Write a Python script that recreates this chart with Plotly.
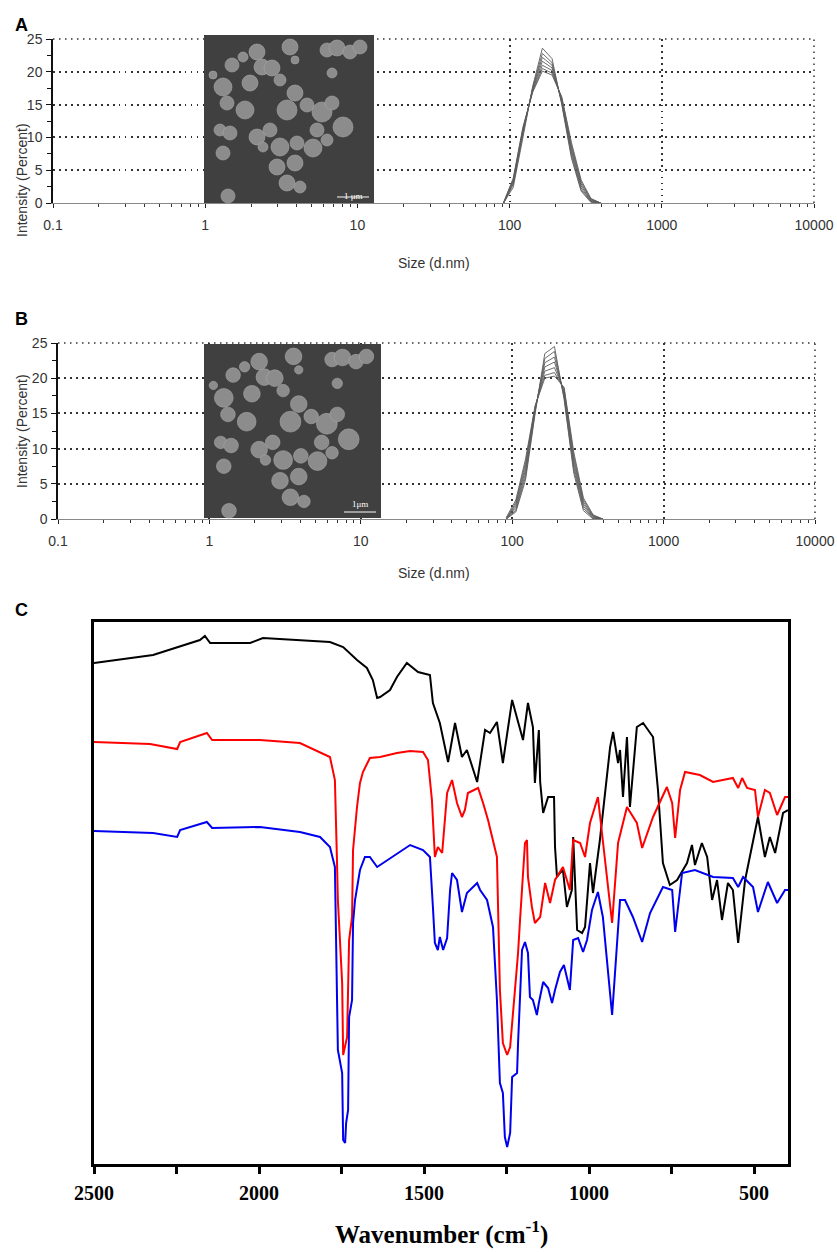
import plotly.graph_objects as go

W, H = 837, 1252

# ---------------- DLS data (panels A and B) ----------------
sizes_nm = [91.28, 105.7, 122.4, 141.8, 164.2, 190.1, 220.2, 255.0, 295.3, 342.0, 396.1]

runs_A = [
    [0, 2.4, 10.0, 17.8, 23.6, 22.0, 15.0, 6.8, 1.8, 0.1, 0],
    [0, 2.8, 10.5, 17.6, 22.8, 21.4, 15.2, 7.2, 2.0, 0.2, 0],
    [0, 3.0, 10.8, 17.5, 22.2, 21.0, 15.4, 7.6, 2.3, 0.3, 0],
    [0, 3.2, 11.0, 17.3, 21.6, 20.6, 15.6, 8.0, 2.6, 0.4, 0],
    [0, 3.4, 11.2, 17.2, 21.0, 20.2, 15.8, 8.4, 2.9, 0.5, 0],
    [0, 3.6, 11.4, 17.0, 20.5, 19.8, 16.0, 8.8, 3.2, 0.6, 0],
    [0.1, 3.8, 11.6, 16.9, 20.1, 19.5, 16.2, 9.2, 3.5, 0.7, 0],
]

runs_B = [
    [0, 1.0, 5.5, 15.0, 23.5, 24.5, 17.0, 6.5, 1.2, 0, 0],
    [0, 1.2, 6.0, 15.3, 22.8, 23.8, 17.3, 7.0, 1.5, 0.1, 0],
    [0, 1.5, 6.5, 15.5, 22.2, 23.0, 17.6, 7.5, 1.8, 0.2, 0],
    [0, 1.8, 7.0, 15.7, 21.6, 22.3, 17.9, 8.0, 2.1, 0.3, 0],
    [0, 2.1, 7.5, 15.9, 21.0, 21.5, 18.2, 8.5, 2.4, 0.4, 0],
    [0, 2.4, 8.0, 16.0, 20.4, 20.8, 18.5, 9.0, 2.7, 0.5, 0],
    [0.2, 2.7, 8.5, 16.1, 20.0, 20.3, 18.7, 9.5, 3.0, 0.6, 0],
]

size_ticks = [0.1, 1, 10, 100, 1000, 10000]
size_tick_labels = ["0.1", "1", "10", "100", "1000", "10000"]
intensity_ticks = [0, 5, 10, 15, 20, 25]

# ---------------- FTIR data (panel C) ----------------
black_wn = [2500, 2321, 2179, 2164, 2148, 2027, 1988, 1876, 1785, 1745, 1703, 1673, 1655, 1642, 1633,
            1603, 1582, 1552, 1518, 1482, 1473, 1452, 1427, 1406, 1385, 1370, 1339, 1315, 1300, 1279,
            1261, 1233, 1218, 1200, 1185, 1170, 1164, 1152, 1148, 1139, 1124, 1106, 1103, 1097, 1088,
            1079, 1067, 1052, 1048, 1036, 1021, 1012, 997, 988, 967, 936, 927, 912, 906, 897,
            885, 876, 855, 836, 806, 791, 776, 755, 733, 703, 688, 679, 658, 642, 627,
            612, 597, 579, 564, 548, 527, 488, 467, 452, 436, 412, 397]
black_T = [501, 509, 524, 528, 521, 521, 526, 524, 522, 517, 504, 496, 484, 466, 467,
           474, 487, 501, 492, 489, 461, 441, 402, 441, 407, 414, 382, 434, 431, 442,
           401, 464, 447, 424, 461, 437, 381, 434, 382, 351, 367, 367, 317, 287, 291,
           294, 257, 274, 327, 234, 231, 237, 301, 271, 324, 417, 432, 401, 414, 367,
           427, 357, 437, 441, 427, 374, 301, 279, 284, 301, 319, 299, 321, 307, 264,
           284, 244, 281, 274, 221, 284, 347, 307, 327, 311, 351, 354]

red_wn = [2500, 2330, 2248, 2239, 2158, 2142, 1997, 1876, 1785, 1770, 1764, 1761, 1748, 1745, 1733,
          1727, 1718, 1715, 1703, 1694, 1685, 1664, 1633, 1582, 1542, 1503, 1488, 1476, 1467, 1458,
          1445, 1430, 1415, 1400, 1385, 1376, 1367, 1336, 1321, 1306, 1279, 1270, 1261, 1248, 1239,
          1224, 1215, 1209, 1194, 1188, 1185, 1173, 1164, 1148, 1133, 1118, 1103, 1079, 1067, 1058,
          1048, 1027, 1012, 997, 973, 952, 930, 912, 885, 855, 839, 806, 764, 748, 739,
          724, 709, 664, 624, 564, 548, 536, 521, 497, 488, 467, 452, 430, 406, 397]
red_T = [422, 420, 415, 422, 431, 424, 424, 421, 407, 384, 307, 264, 181, 109, 127,
         224, 247, 314, 357, 381, 392, 406, 407, 411, 413, 412, 404, 364, 307, 317,
         311, 371, 384, 361, 347, 354, 371, 376, 361, 344, 307, 174, 121, 109, 117,
         176, 211, 244, 321, 324, 287, 257, 241, 247, 281, 261, 284, 297, 284, 274,
         324, 321, 307, 341, 367, 307, 241, 321, 357, 341, 316, 347, 377, 361, 326,
         374, 392, 389, 382, 386, 376, 386, 376, 374, 347, 374, 371, 349, 367, 367]

blue_wn = [2500, 2321, 2248, 2239, 2158, 2142, 1997, 1876, 1815, 1785, 1770, 1761, 1748, 1745, 1739,
           1736, 1730, 1727, 1718, 1715, 1709, 1694, 1679, 1664, 1642, 1624, 1582, 1542, 1503, 1482,
           1473, 1467, 1458, 1452, 1442, 1430, 1421, 1415, 1400, 1385, 1370, 1339, 1330, 1309, 1291,
           1279, 1270, 1261, 1255, 1248, 1239, 1233, 1218, 1215, 1203, 1194, 1185, 1179, 1170, 1158,
           1152, 1139, 1124, 1112, 1103, 1088, 1076, 1067, 1058, 1048, 1033, 1018, 1006, 991, 973,
           958, 930, 906, 891, 867, 839, 815, 776, 748, 739, 718, 679, 624, 564, 548,
           533, 503, 488, 458, 430, 406, 397]
blue_T = [333, 331, 327, 334, 342, 336, 337, 332, 327, 317, 297, 114, 91, 24, 21,
          41, 54, 147, 164, 241, 264, 294, 307, 307, 297, 301, 311, 319, 314, 307,
          257, 221, 214, 227, 214, 226, 274, 291, 284, 252, 271, 281, 274, 264, 237,
          164, 81, 71, 27, 17, 31, 87, 91, 121, 214, 222, 211, 167, 164, 149,
          161, 182, 176, 161, 174, 192, 199, 187, 174, 224, 226, 212, 224, 254, 272,
          247, 149, 264, 264, 247, 222, 251, 277, 274, 232, 291, 294, 287, 286, 277,
          287, 277, 252, 282, 261, 274, 274]

wn_ticks = [2500, 2000, 1500, 1000, 500]
wn_tick_labels = ["2500", "2000", "1500", "1000", "500"]
wn_minor_ticks = [2250, 1750, 1250, 750]

# ---------------- figure ----------------
fig = go.Figure()

for run in runs_A:
    fig.add_trace(go.Scatter(x=sizes_nm, y=run, xaxis="x", yaxis="y", mode="lines",
                             line=dict(color="#5c5c5c", width=0.9), showlegend=False))
for run in runs_B:
    fig.add_trace(go.Scatter(x=sizes_nm, y=run, xaxis="x2", yaxis="y2", mode="lines",
                             line=dict(color="#5c5c5c", width=0.9), showlegend=False))

for wn, t, col in [(black_wn, black_T, "#000000"), (red_wn, red_T, "#ff0000"), (blue_wn, blue_T, "#0000ee")]:
    fig.add_trace(go.Scatter(x=wn, y=t, xaxis="x3", yaxis="y3", mode="lines",
                             line=dict(color=col, width=2), showlegend=False))


def pxx(x):
    return x / W


def pyy(y):
    return 1 - y / H


sans = "Liberation Sans, Arial, sans-serif"
serif = "Liberation Serif, Times New Roman, serif"
tickfont_dls = dict(family=sans, size=14, color="#333333")
grid_dash = "1.5px,4.5px"
grid_color = "#333333"

minor_log = [k * 10 ** e for e in range(-1, 4) for k in range(2, 10)]


def dls_x(domain, anchor):
    return dict(type="log", range=[-1, 4], domain=domain, anchor=anchor, automargin=False,
                tickvals=size_ticks, ticktext=size_tick_labels,
                showgrid=True, gridcolor=grid_color, griddash=grid_dash, gridwidth=1.5,
                showline=True, linecolor="#888888", linewidth=1.2,
                ticks="outside", ticklen=4, tickcolor="#222222", tickwidth=1,
                minor=dict(tickvals=minor_log, ticks="outside", ticklen=3,
                           tickcolor="#333333", showgrid=False),
                tickfont=tickfont_dls, ticklabelstandoff=5, zeroline=False)


def dls_y(domain, anchor):
    return dict(range=[0, 25], domain=domain, anchor=anchor, automargin=False,
                tickvals=intensity_ticks,
                showgrid=True, gridcolor=grid_color, griddash=grid_dash, gridwidth=1.5,
                showline=True, linecolor="#111111", linewidth=1.5,
                ticks="outside", ticklen=5, tickcolor="#111111", tickwidth=1.2,
                minor=dict(dtick=2.5, tick0=0, ticks="outside", ticklen=4,
                           tickcolor="#111111", showgrid=False),
                tickfont=tickfont_dls, ticklabelstandoff=1, zeroline=False)


layout = dict(
    width=W, height=H, margin=dict(l=0, r=0, t=0, b=0, autoexpand=False),
    paper_bgcolor="white", plot_bgcolor="white", showlegend=False,
    xaxis=dls_x([pxx(53), pxx(814)], "y"),
    yaxis=dls_y([pyy(203), pyy(39)], "x"),
    xaxis2=dls_x([pxx(58), pxx(815)], "y2"),
    yaxis2=dls_y([pyy(519), pyy(343)], "x2"),
    xaxis3=dict(range=[2500, 397], domain=[pxx(94), pxx(788)], anchor="y3", automargin=False,
                tickvals=wn_ticks, ticktext=wn_tick_labels,
                ticks="outside", ticklen=7, tickwidth=3, tickcolor="black",
                minor=dict(tickvals=wn_minor_ticks, ticks="outside", ticklen=7, tickwidth=3,
                           tickcolor="black", showgrid=False),
                showline=True, linewidth=3, linecolor="black", mirror=True,
                showgrid=False, zeroline=False, ticklabelstandoff=2,
                tickfont=dict(family=serif, size=20, color="black", weight="bold")),
    yaxis3=dict(range=[0, 542], domain=[pyy(1164), pyy(622)], anchor="x3", automargin=False,
                showticklabels=False, ticks="", showline=True, linewidth=3,
                linecolor="black", mirror=True, showgrid=False, zeroline=False),
)
fig.update_layout(**layout)

shapes = []
annotations = []

# dotted frame gridlines at the top (25) and right (10000) edges of A and B
for xa, ya in [("x", "y"), ("x2", "y2")]:
    shapes.append(dict(type="line", xref=xa + " domain", yref=ya + " domain", x0=0, x1=1, y0=1, y1=1,
                       line=dict(color=grid_color, width=1.5, dash=grid_dash), layer="below"))
    shapes.append(dict(type="line", xref=xa + " domain", yref=ya + " domain", x0=1, x1=1, y0=0, y1=1,
                       line=dict(color=grid_color, width=1.5, dash=grid_dash), layer="below"))

# ---------------- SEM inset stand-ins ----------------
sem_particles = [(223, 87, 9), (250, 83, 8), (262, 67, 8), (272, 68, 8), (232, 65, 7), (243, 57, 5),
                 (257, 52, 8), (290, 47, 8), (295, 93, 8), (280, 80, 6), (245, 110, 9), (227, 103, 7),
                 (220, 130, 6), (230, 133, 7), (257, 137, 8), (270, 130, 7), (287, 110, 10), (307, 105, 7),
                 (322, 112, 10), (343, 127, 10), (332, 103, 7), (317, 130, 7), (280, 147, 9), (297, 143, 7),
                 (313, 148, 9), (327, 140, 6), (223, 153, 7), (277, 167, 8), (295, 163, 8), (287, 183, 8),
                 (300, 187, 6), (228, 196, 7), (327, 50, 7), (337, 48, 8), (350, 52, 7), (360, 47, 7),
                 (332, 73, 5), (295, 60, 4), (213, 75, 4), (263, 147, 5)]
boxA = (204, 35, 374, 203)
boxB = (204, 344, 381, 518)


def add_sem(box, scale_label):
    x0, y0, x1, y1 = box
    shapes.append(dict(type="rect", xref="paper", yref="paper", x0=pxx(x0), x1=pxx(x1),
                       y0=pyy(y1), y1=pyy(y0), fillcolor="#404040", line=dict(width=0), layer="above"))
    ax0, ay0, ax1, ay1 = boxA
    for cx, cy, r in sem_particles:
        u = (cx - ax0) / (ax1 - ax0)
        v = (cy - ay0) / (ay1 - ay0)
        rr = r / (ax1 - ax0) * (x1 - x0)
        X = x0 + u * (x1 - x0)
        Y = y0 + v * (y1 - y0)
        shapes.append(dict(type="circle", xref="paper", yref="paper",
                           x0=pxx(X - rr), x1=pxx(X + rr), y0=pyy(Y + rr), y1=pyy(Y - rr),
                           fillcolor="#8c8c8c", line=dict(color="#a8a8a8", width=0.6), layer="above"))
    # scale bar
    shapes.append(dict(type="line", xref="paper", yref="paper", x0=pxx(x1 - 37), x1=pxx(x1 - 5),
                       y0=pyy(y1 - 6), y1=pyy(y1 - 6), line=dict(color="#dddddd", width=1.2), layer="above"))
    annotations.append(dict(text=scale_label, xref="paper", yref="paper", x=pxx(x1 - 21), y=pyy(y1 - 14),
                            showarrow=False, font=dict(family=serif, size=9, color="white")))


add_sem(boxA, "1 μm")
add_sem(boxB, "1μm")

# ---------------- text ----------------
for label, y in [("A", 13), ("B", 307), ("C", 610)]:
    annotations.append(dict(text=label, xref="paper", yref="paper", x=pxx(13), y=pyy(y),
                            showarrow=False, font=dict(family=sans, size=18, color="black", weight="bold")))

for y in [253, 573]:
    annotations.append(dict(text="Size (d.nm)", xref="paper", yref="paper", x=pxx(434), y=pyy(y),
                            showarrow=False, font=dict(family=sans, size=14, color="#333333")))
for y in [121, 431]:
    annotations.append(dict(text="Intensity (Percent)", xref="paper", yref="paper", x=pxx(12), y=pyy(y),
                            textangle=-90, showarrow=False, font=dict(family=sans, size=14, color="#333333")))

annotations.append(dict(text="Wavenumber (cm<sup>-1</sup>)", xref="paper", yref="paper",
                        x=pxx(441), y=pyy(1251), yanchor="bottom", showarrow=False,
                        font=dict(family=serif, size=25, color="black", weight="bold")))

fig.update_layout(shapes=shapes, annotations=annotations)

fig.write_html("out.html", config={"displayModeBar": False},
               post_script="document.body.style.margin='0px';document.body.style.overflow='hidden';")
